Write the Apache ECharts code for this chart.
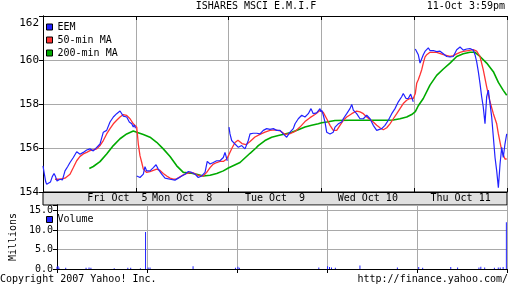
<!DOCTYPE html>
<html>
<head>
<meta charset="utf-8">
<script src="https://cdn.jsdelivr.net/npm/echarts@6/dist/echarts.min.js"></script>
<style>html,body{margin:0;padding:0;background:#fff}#c{width:512px;height:288px}</style>
</head>
<body>
<div id="c"></div>
<script>
// ---- data (x = trading-session time in days, 0..5) ----
const days = ['Fri Oct  5', 'Mon Oct  8', 'Tue Oct  9', 'Wed Oct 10', 'Thu Oct 11'];
const priceMin = 154, priceMax = 162, priceStep = 2;
const volMax = 16.4, volStep = 5;

const eemFri = [[0.000,155.19],[0.011,154.90],[0.030,154.45],[0.040,154.35],[0.060,154.40],[0.080,154.45],[0.100,154.70],[0.119,154.84],[0.135,154.70],[0.151,154.50],[0.170,154.45],[0.183,154.58],[0.210,154.55],[0.237,154.96],[0.265,155.15],[0.291,155.34],[0.327,155.57],[0.363,155.83],[0.399,155.72],[0.434,155.80],[0.471,155.91],[0.506,155.96],[0.542,155.87],[0.579,156.03],[0.614,156.18],[0.650,156.72],[0.686,156.80],[0.722,157.18],[0.758,157.41],[0.794,157.56],[0.830,157.68],[0.848,157.74],[0.865,157.45],[0.902,157.41],[0.930,157.18],[0.956,157.10],[0.973,156.95],[0.984,157.05],[0.997,156.90]];
const eemMon = [[1.010,154.73],[1.027,154.66],[1.045,154.66],[1.064,154.75],[1.081,154.81],[1.099,155.15],[1.117,154.96],[1.153,154.96],[1.189,155.11],[1.218,155.24],[1.242,155.04],[1.279,154.81],[1.315,154.63],[1.369,154.58],[1.422,154.54],[1.458,154.63],[1.495,154.73],[1.530,154.81],[1.566,154.93],[1.602,154.89],[1.638,154.81],[1.673,154.66],[1.710,154.73],[1.746,154.89],[1.770,155.39],[1.800,155.27],[1.835,155.34],[1.872,155.42],[1.907,155.42],[1.943,155.57],[1.961,155.80],[1.986,155.42]];
const eemTue = [[2.004,156.95],[2.015,156.64],[2.033,156.34],[2.069,156.18],[2.105,156.03],[2.141,156.11],[2.177,155.96],[2.212,156.34],[2.231,156.64],[2.266,156.67],[2.303,156.67],[2.338,156.64],[2.374,156.80],[2.411,156.88],[2.446,156.85],[2.482,156.88],[2.518,156.80],[2.554,156.80],[2.589,156.64],[2.626,156.49],[2.662,156.72],[2.697,156.88],[2.716,157.10],[2.751,157.33],[2.788,157.49],[2.823,157.41],[2.859,157.56],[2.888,157.79],[2.912,157.56],[2.949,157.60],[2.985,157.79],[2.996,157.64]];
const eemWed = [[3.003,157.72],[3.020,157.50],[3.039,157.18],[3.057,156.72],[3.093,156.64],[3.128,156.72],[3.147,156.95],[3.182,157.10],[3.219,157.18],[3.236,157.33],[3.273,157.56],[3.308,157.79],[3.327,157.98],[3.344,157.72],[3.380,157.56],[3.416,157.33],[3.452,157.33],[3.488,157.49],[3.524,157.33],[3.559,157.03],[3.596,156.80],[3.613,156.72],[3.650,156.88],[3.685,157.03],[3.721,157.26],[3.758,157.56],[3.793,157.79],[3.829,158.10],[3.865,158.33],[3.882,158.48],[3.912,158.25],[3.936,158.25],[3.962,158.45],[3.990,158.10]];
const eemThu = [[4.012,160.50],[4.027,160.48],[4.044,160.24],[4.063,159.86],[4.081,159.90],[4.098,160.24],[4.116,160.39],[4.152,160.55],[4.170,160.43],[4.206,160.43],[4.242,160.38],[4.278,160.40],[4.314,160.28],[4.350,160.16],[4.386,160.14],[4.421,160.16],[4.458,160.47],[4.494,160.59],[4.529,160.45],[4.566,160.50],[4.601,160.52],[4.636,160.45],[4.655,160.24],[4.673,159.93],[4.691,159.47],[4.709,158.94],[4.727,158.33],[4.744,157.87],[4.763,157.10],[4.781,158.33],[4.799,158.63],[4.817,158.02],[4.835,157.41],[4.853,156.49],[4.871,155.57],[4.889,154.96],[4.907,154.20],[4.925,155.27],[4.943,156.03],[4.960,155.57],[4.978,156.18],[4.997,156.64]];

const ma50 = [[0.129,154.58],[0.183,154.58],[0.237,154.63],[0.291,154.81],[0.327,155.11],[0.363,155.42],[0.399,155.62],[0.434,155.73],[0.471,155.80],[0.506,155.88],[0.542,155.91],[0.579,155.96],[0.614,156.11],[0.650,156.34],[0.686,156.64],[0.722,156.88],[0.758,157.10],[0.794,157.26],[0.830,157.41],[0.865,157.52],[0.902,157.48],[0.938,157.33],[0.973,157.10],[1.010,156.95],[1.027,156.18],[1.045,155.65],[1.064,155.34],[1.081,155.04],[1.117,154.89],[1.153,154.93],[1.189,154.98],[1.225,155.04],[1.261,154.98],[1.296,154.84],[1.333,154.73],[1.369,154.63],[1.404,154.58],[1.441,154.60],[1.476,154.69],[1.512,154.78],[1.548,154.84],[1.584,154.89],[1.620,154.87],[1.656,154.78],[1.692,154.73],[1.727,154.73],[1.764,154.89],[1.800,155.11],[1.835,155.27],[1.872,155.34],[1.907,155.39],[1.943,155.39],[1.980,155.50],
  [2.004,155.70],[2.037,156.00],[2.069,156.25],[2.101,156.35],[2.144,156.20],[2.188,156.15],[2.231,156.30],[2.284,156.50],[2.338,156.62],[2.392,156.72],[2.446,156.80],[2.500,156.82],[2.554,156.78],[2.608,156.62],[2.662,156.65],[2.716,156.75],[2.769,156.95],[2.823,157.20],[2.877,157.38],[2.931,157.52],[2.985,157.70],
  [3.020,157.62],[3.057,157.33],[3.093,157.03],[3.128,156.80],[3.165,156.80],[3.200,157.03],[3.236,157.26],[3.273,157.41],[3.327,157.56],[3.380,157.68],[3.416,157.64],[3.452,157.56],[3.488,157.41],[3.524,157.30],[3.559,157.18],[3.596,157.03],[3.631,156.92],[3.667,156.83],[3.704,156.92],[3.739,157.10],[3.775,157.33],[3.812,157.56],[3.847,157.79],[3.882,158.02],[3.919,158.17],[3.955,158.25],[3.990,158.25],
  [4.012,158.48],[4.027,158.94],[4.044,159.10],[4.063,159.33],[4.081,159.56],[4.098,159.86],[4.116,160.13],[4.135,160.24],[4.170,160.35],[4.242,160.35],[4.314,160.24],[4.386,160.16],[4.421,160.20],[4.458,160.28],[4.494,160.35],[4.529,160.39],[4.583,160.43],[4.636,160.47],[4.673,160.40],[4.709,160.16],[4.744,159.56],[4.781,158.78],[4.817,158.10],[4.853,157.56],[4.889,157.10],[4.907,156.64],[4.943,155.88],[4.978,155.50],[4.997,155.50]];

const ma200 = [[0.499,155.07],[0.542,155.16],[0.614,155.38],[0.686,155.73],[0.758,156.11],[0.830,156.42],[0.902,156.64],[0.973,156.77],[1.010,156.72],[1.081,156.61],[1.153,156.49],[1.225,156.26],[1.296,155.96],[1.369,155.61],[1.441,155.19],[1.512,154.89],[1.584,154.86],[1.656,154.81],[1.727,154.73],[1.800,154.76],[1.872,154.84],[1.943,154.96],[1.997,155.09],
  [2.015,155.12],[2.123,155.34],[2.231,155.76],[2.295,156.00],[2.320,156.11],[2.392,156.34],[2.464,156.49],[2.536,156.57],[2.608,156.64],[2.680,156.72],[2.751,156.83],[2.823,156.95],[2.895,157.03],[2.967,157.10],
  [3.003,157.15],[3.057,157.18],[3.147,157.25],[3.300,157.26],[3.500,157.26],[3.700,157.26],[3.775,157.27],[3.847,157.33],[3.919,157.41],[3.973,157.52],
  [4.012,157.65],[4.044,157.92],[4.098,158.25],[4.170,158.86],[4.242,159.30],[4.314,159.59],[4.386,159.86],[4.458,160.16],[4.529,160.28],[4.601,160.35],[4.655,160.35],[4.709,160.16],[4.781,159.86],[4.853,159.47],[4.907,158.98],[4.960,158.62],[4.997,158.40]];

const volume = [[0.000,0.6],[0.011,0.8],[0.022,0.4],[0.097,0.3],[0.323,0.3],[0.356,0.4],[0.377,0.3],[0.636,0.2],[0.787,0.3],[0.819,0.3],[0.927,0.2],[0.984,9.5],[1.013,0.4],[1.034,0.4],[1.512,0.7],[1.983,0.3],[2.010,0.6],[2.026,0.3],[2.909,0.4],[3.006,0.7],[3.028,0.5],[3.050,0.4],[3.093,0.3],[3.366,0.9],[3.782,0.4],[4.019,0.5],[4.063,0.3],[4.375,0.5],[4.451,0.4],[4.688,0.4],[4.709,0.6],[4.752,0.4],[4.860,0.3],[4.903,0.4],[4.925,0.4],[4.957,0.5],[4.993,12.0]];

const GAP = '-';
const eem = [].concat(eemFri, [[1.0, GAP]], eemMon, [[2.0, GAP]], eemTue, [[3.0, GAP]], eemWed, [[4.0, GAP]], eemThu);

// ---- styling ----
const FONT = 'DejaVu Sans Mono';
const BLUE = '#2222ff', RED = '#ff3333', GREEN = '#00aa00';
const GRIDC = '#a9a9a9';
const L = 43, W = 464;

const chart = echarts.init(document.getElementById('c'), null, {renderer: 'canvas'});
const axLine = {show: true, lineStyle: {color: '#000', width: 1}};
const txt = {fontFamily: FONT, fontSize: 10, color: '#000', fontWeight: 'normal'};

chart.setOption({
  animation: false,
  backgroundColor: '#fff',
  textStyle: {fontFamily: FONT},
  title: [
    {text: 'ISHARES MSCI E.M.I.F', left: 'center', top: 1, padding: 0, textStyle: txt},
    {text: '11-Oct 3:59pm', right: 7, top: 1, padding: 0, textStyle: txt},
    {text: 'Copyright 2007 Yahoo! Inc.', left: 0, top: 274, padding: 0, textStyle: txt},
    {text: 'http://finance.yahoo.com/', right: 4, top: 274, padding: 0, textStyle: txt}
  ],
  legend: [
    {data: ['EEM', '50-min MA', '200-min MA'], orient: 'vertical', left: 46, top: 20.5, itemWidth: 6, itemHeight: 6, itemGap: 0,
     icon: 'rect', selectedMode: false, padding: 0,
     itemStyle: {borderColor: '#000', borderWidth: 1},
     textStyle: {fontFamily: FONT, fontSize: 10, color: '#000', lineHeight: 13}},
    {data: ['Volume'], orient: 'vertical', left: 46, top: 213, itemWidth: 6, itemHeight: 6, icon: 'rect', selectedMode: false, padding: 0,
     itemStyle: {borderColor: '#000', borderWidth: 1},
     textStyle: {fontFamily: FONT, fontSize: 10, color: '#000', lineHeight: 13}}
  ],
  grid: [
    {left: L, top: 16, width: W, height: 176},
    {left: L, top: 192, width: W, height: 13, show: true, backgroundColor: '#e0e0e0', borderColor: '#000', borderWidth: 1},
    {left: L, top: 205, width: W, height: 64}
  ],
  xAxis: [
    {gridIndex: 0, type: 'value', min: 0, max: 5, interval: 1, position: 'bottom', axisLine: axLine,
     axisTick: {show: true, inside: true, length: 4, lineStyle: {color: '#000'}}, axisLabel: {show: false},
     splitLine: {show: true, lineStyle: {color: GRIDC, width: 1}}},
    {gridIndex: 0, type: 'value', min: 0, max: 5, interval: 1, position: 'top', axisLine: axLine,
     axisTick: {show: true, inside: true, length: 4, lineStyle: {color: '#000'}}, axisLabel: {show: false}, splitLine: {show: false}},
    {gridIndex: 1, type: 'category', data: days, position: 'top', boundaryGap: true,
     axisLine: {show: false}, axisTick: {show: false}, splitLine: {show: false},
     axisLabel: {show: true, inside: true, interval: 0, margin: 6.5, verticalAlign: 'middle', fontFamily: FONT, fontSize: 10, color: '#000',
       formatter: function (v, i) { return i === 0 ? '{f|' + v + '}' : v; },
       rich: {f: {fontFamily: FONT, fontSize: 10, color: '#000', padding: [0, 0, 0, 56]}}}},
    {gridIndex: 2, type: 'value', min: 0, max: 5, interval: 1, position: 'bottom', axisLine: axLine,
     axisTick: {show: false}, axisLabel: {show: false},
     splitLine: {show: true, lineStyle: {color: GRIDC, width: 1}}},
    {gridIndex: 2, type: 'value', min: 0, max: 5, interval: 1, position: 'top', axisLine: axLine,
     axisTick: {show: true, inside: true, length: 4, lineStyle: {color: '#000'}}, axisLabel: {show: false}, splitLine: {show: false}}
  ],
  yAxis: [
    {gridIndex: 0, type: 'value', min: priceMin, max: priceMax, interval: priceStep, position: 'left', axisLine: axLine,
     axisTick: {show: true, length: 3, lineStyle: {color: '#000'}},
     axisLabel: {margin: 4, fontFamily: FONT, fontSize: 11, color: '#000',
       formatter: function (v) { return v === priceMax ? '{t|' + v + '}' : String(v); },
       rich: {t: {fontFamily: FONT, fontSize: 11, color: '#000', padding: [14, 0, 0, 0]}}},
     splitLine: {show: true, lineStyle: {color: GRIDC, width: 1}}},
    {gridIndex: 0, type: 'value', min: priceMin, max: priceMax, interval: priceStep, position: 'right', axisLine: axLine,
     axisTick: {show: true, inside: true, length: 4, lineStyle: {color: '#000'}}, axisLabel: {show: false}, splitLine: {show: false}},
    {gridIndex: 1, type: 'value', show: false},
    {gridIndex: 2, type: 'value', min: 0, max: volMax, interval: volStep, position: 'left', axisLine: axLine,
     axisTick: {show: true, length: 3, lineStyle: {color: '#000'}},
     axisLabel: {margin: 4, fontFamily: FONT, fontSize: 10, color: '#000', showMaxLabel: false,
       formatter: function (v) { return v.toFixed(1); }},
     splitLine: {show: true, lineStyle: {color: GRIDC, width: 1}},
     name: 'Millions', nameLocation: 'middle', nameRotate: 90, nameGap: 36,
     nameTextStyle: {fontFamily: FONT, fontSize: 10, color: '#000'}},
    {gridIndex: 2, type: 'value', min: 0, max: volMax, interval: volStep, position: 'right', axisLine: axLine,
     axisTick: {show: true, inside: true, length: 4, lineStyle: {color: '#000'}}, axisLabel: {show: false}, splitLine: {show: false}}
  ],
  series: [
    {name: '200-min MA', type: 'line', xAxisIndex: 0, yAxisIndex: 0, data: ma200, showSymbol: false, symbol: 'none',
     lineStyle: {color: GREEN, width: 1.6}, itemStyle: {color: GREEN}, z: 2},
    {name: '50-min MA', type: 'line', xAxisIndex: 0, yAxisIndex: 0, data: ma50, showSymbol: false, symbol: 'none',
     lineStyle: {color: RED, width: 1.3}, itemStyle: {color: RED}, z: 3},
    {name: 'EEM', type: 'line', xAxisIndex: 0, yAxisIndex: 0, data: eem, showSymbol: false, symbol: 'none', connectNulls: false,
     lineStyle: {color: BLUE, width: 1.2}, itemStyle: {color: BLUE}, z: 4},
    {name: 'Volume', type: 'bar', xAxisIndex: 3, yAxisIndex: 3, data: volume, barWidth: 1, itemStyle: {color: BLUE}}
  ]
});
</script>
</body>
</html>
